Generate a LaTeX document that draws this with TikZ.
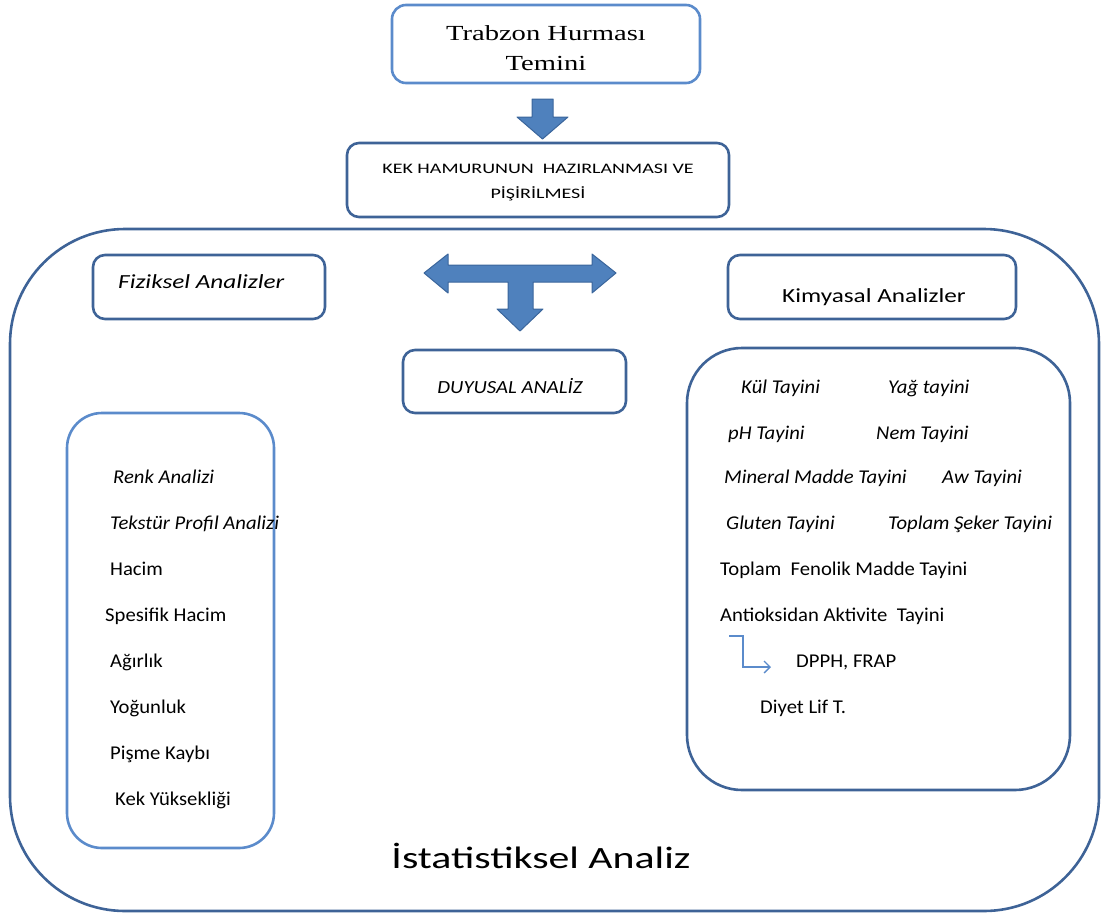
\documentclass[tikz,border=0pt]{standalone}
\usepackage{fontspec}
\setmainfont{Carlito}
\newfontfamily\serfont[FakeStretch=1.33]{Liberation Serif}
\newfontfamily\itemfont[FakeStretch=1.06]{Carlito}
\newfontfamily\headfont[FakeStretch=1.26]{Carlito}
\newfontfamily\kekfont[FakeStretch=1.38]{Carlito}
\newfontfamily\duyfont[FakeStretch=1.12]{Carlito}
\newfontfamily\istfont[FakeStretch=1.35]{Carlito}
\usetikzlibrary{positioning,arrows.meta}
\definecolor{darkb}{HTML}{3E6397}
\definecolor{lightb}{HTML}{5B8BCB}
\definecolor{arrfill}{HTML}{4F81BD}
\definecolor{arrline}{HTML}{3A659B}

\begin{document}
\begin{tikzpicture}[x=1pt,y=-1pt,
    box/.style={draw=darkb, line width=2.6pt, rounded corners=12pt},
    lbox/.style={draw=lightb, line width=2.6pt, rounded corners=14pt},
    item/.style={anchor=base west, inner sep=0pt, font=\itemfont\fontsize{19.5}{22}\selectfont},
    iitem/.style={anchor=base west, inner sep=0pt, font=\itemfont\fontsize{19.5}{22}\selectfont\itshape},
    blk/.style={fill=arrfill, draw=arrline, line width=1pt, line join=round}]
       \useasboundingbox (0,0) rectangle (1103,916);

       % boxes
       \node(top)[lbox, minimum width=308pt, minimum height=78pt] at (546,44) {};
       \node(Ntop)[anchor=base, inner sep=0pt, align=center,
         font=\serfont\fontsize{21.5}{30}\selectfont] at (546,70) {Trabzon Hurması\\Temini};
       \node(kek)[box, minimum width=382pt, minimum height=74pt] at (538,180) {};
       \node(Nkek)[anchor=base, inner sep=0pt, align=center,
         font=\kekfont\fontsize{14.5}{25}\selectfont] at (538,198) {KEK HAMURUNUN\ \ HAZIRLANMASI VE\\PİŞİRİLMESİ};
       \node(big)[box, rounded corners=115pt, minimum width=1089pt, minimum height=682pt] at (554.5,570) {};

       \node(fiz)[box, minimum width=232pt, minimum height=64pt] at (209,287) {};
       \node(Nfiz)[anchor=base west, inner sep=0pt, font=\headfont\fontsize{20}{22}\selectfont\itshape] at (118,288) {Fiziksel Analizler};

       \node(kim)[box, minimum width=288pt, minimum height=64pt] at (872,287) {};
       \node(Nkim)[anchor=base, inner sep=0pt, font=\headfont\fontsize{20}{22}\selectfont] at (874,302) {Kimyasal Analizler};

       \node(duy)[box, minimum width=223pt, minimum height=63pt] at (514.5,381.5) {};
       \node(Nduy)[anchor=base, inner sep=0pt, font=\duyfont\fontsize{18.5}{20}\selectfont\itshape] at (510,393) {DUYUSAL ANALİZ};

       \node(fizl)[lbox, rounded corners=35pt, minimum width=207pt, minimum height=435pt] at (170.5,630.5) {};
       \node(kiml)[box, rounded corners=55pt, minimum width=383pt, minimum height=442pt] at (878.5,569) {};

       % block arrows
       \draw[blk] (532,99) -- (553,99) -- (553,117) -- (568,117) -- (542.5,139)
                  -- (517,117) -- (532,117) -- cycle;
       \draw[blk] (424,273) -- (448,254) -- (448,265) -- (592,265) -- (592,254)
                  -- (616,273) -- (592,293) -- (592,282) -- (533,282) -- (533,309)
                  -- (543,309) -- (520,331) -- (497,309) -- (508,309) -- (508,282)
                  -- (448,282) -- (448,293) -- cycle;

       % left list
       \node(renk)[iitem] at (113,483) {Renk Analizi};
       \node(teks)[iitem] at (110,529) {Tekstür Profil Analizi};
       \node(hac)[item] at (110,575) {Hacim};
       \node(spes)[item] at (105,621) {Spesifik Hacim};
       \node(agir)[item] at (110,667) {Ağırlık};
       \node(yog)[item] at (110,713) {Yoğunluk};
       \node(pis)[item] at (110,759) {Pişme Kaybı};
       \node(yuk)[item] at (115,805) {Kek Yüksekliği};

       % right list
       \node(kul)[iitem] at (741,393) {Kül Tayini};
       \node(yag)[iitem] at (888,393) {Yağ tayini};
       \node(ph)[iitem] at (728,439) {pH Tayini};
       \node(nem)[iitem] at (876,439) {Nem Tayini};
       \node(min)[iitem] at (724,483) {Mineral Madde Tayini};
       \node(aw)[iitem] at (942,483) {Aw Tayini};
       \node(glu)[iitem] at (726,529) {Gluten Tayini};
       \node(sek)[iitem] at (888,529) {Toplam Şeker Tayini};
       \node(fen)[item] at (720,575) {Toplam\ \ Fenolik Madde Tayini};
       \node(ant)[item] at (720,621) {Antioksidan Aktivite\ \ Tayini};
       \node(dp)[item] at (796,667) {DPPH, FRAP};
       \node(lif)[item] at (760,713) {Diyet Lif T.};

       \coordinate(A1) at (729,636);
       \coordinate(A2) at (771,667);
       \draw[lightb, line width=1.3pt, -{Straight Barb[length=6pt,width=12pt]}] (A1) -- ++(14,0) |- (A2);

       \node(ist)[anchor=base, inner sep=0pt, font=\istfont\fontsize{31}{34}\selectfont] at (541,868) {İstatistiksel Analiz};
      \end{tikzpicture}
\end{document}
